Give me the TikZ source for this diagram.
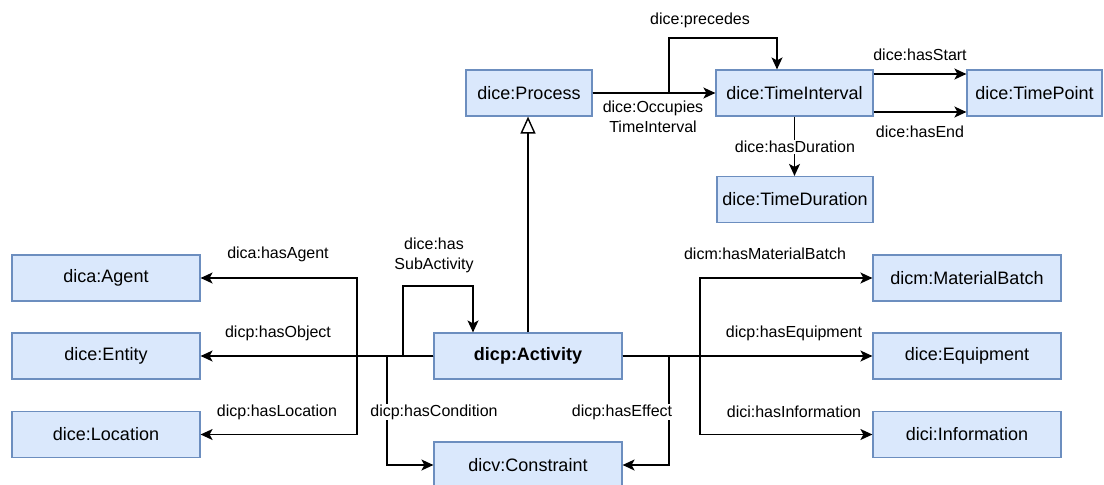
\documentclass[tikz,border=0pt]{standalone}
\usepackage{fontspec}
\setmainfont{Liberation Sans}
\usetikzlibrary{arrows.meta}

\definecolor{boxfill}{HTML}{DAE8FC}
\definecolor{boxline}{HTML}{6C8EBF}

\tikzset{
    cls/.style={draw=boxline, fill=boxfill, line width=1.2pt, minimum height=46pt, inner sep=0pt, font=\fontsize{18}{21}\selectfont},
    rel/.style={inner sep=1pt, align=center, font=\fontsize{16}{20}\selectfont},
    arr/.style={line width=1.4pt, -{Stealth[length=12pt,width=11pt,inset=3pt]}},
    gen/.style={line width=1.4pt, -{Triangle[open,length=17pt,width=15pt,fill=white]}}
}

\begin{document}
    \begin{tikzpicture}[x=1pt,y=-1pt]
        \useasboundingbox (0,0) rectangle (1104,485);

        \node[cls, minimum width=126pt] (p) at (529, 93) {dice:Process};
        \node[cls, minimum width=157pt] (ti) at (794.5, 93) {dice:TimeInterval};
        \node[cls, minimum width=135pt] (tp) at (1034.5, 93) {dice:TimePoint};
        \node[cls, minimum width=156pt] (td) at (795, 199.5) {dice:TimeDuration};

        \node[cls, minimum width=188pt] (ag) at (106, 278) {dica:Agent};
        \node[cls, minimum width=188pt] (en) at (106, 356) {dice:Entity};
        \node[cls, minimum width=188pt] (lo) at (106, 434.5) {dice:Location};

        \node[cls, minimum width=188pt, font=\fontsize{18}{21}\selectfont\bfseries] (ac) at (528, 356) {dicp:Activity};
        \node[cls, minimum width=188pt] (co) at (528, 465) {dicv:Constraint};

        \node[cls, minimum width=188pt] (mb) at (967, 278) {dicm:MaterialBatch};
        \node[cls, minimum width=188pt] (eq) at (967, 356) {dice:Equipment};
        \node[cls, minimum width=188pt] (in) at (967, 434.5) {dici:Information};

        \coordinate (pr1) at (669, 93);
        \coordinate (pr2) at (777, 38);
        \coordinate (sa1) at (403, 356);
        \coordinate (sa2) at (473, 286);
        \coordinate (ls) at (357, 356);
        \coordinate (cd) at (387, 356);
        \coordinate (ef) at (669, 356);
        \coordinate (rs) at (700, 356);

        \draw[arr] (p) -- (ti);
        \draw[arr] (p.east) -- (pr1) |- (pr2) -- (pr2 |- ti.north);
        \draw[arr] ([yshift=19pt]ti.east) -- ([yshift=19pt]tp.west);
        \draw[arr] ([yshift=-19pt]ti.east) -- ([yshift=-19pt]tp.west);
        \draw[arr] (ti.south) -- (ti.south |- td.north);
        \draw[gen] (ac.north) -- (ac.north |- p.south);

        \draw[arr] (ac.west) -- (en.east);
        \draw[arr] (ac.west) -- (ls) |- (ag.east);
        \draw[arr] (ac.west) -- (ls) |- (lo.east);
        \draw[arr] (ac.west) -- (sa1) |- (sa2) -- (sa2 |- ac.north);
        \draw[arr] (ac.west) -- (cd) |- (co.west);

        \draw[arr] (ac.east) -- (eq.west);
        \draw[arr] (ac.east) -- (rs) |- (mb.west);
        \draw[arr] (ac.east) -- (rs) |- (in.west);
        \draw[arr] (ac.east) -- (ef) |- (co.east);

        \node[rel] (l1) at (700, 20) {dice:precedes};
        \node[rel] (l2) at (653, 117) {dice:Occupies\\TimeInterval};
        \node[rel] (l3) at (920, 55) {dice:hasStart};
        \node[rel] (l4) at (920, 132) {dice:hasEnd};
        \node[rel, fill=white] (l5) at (795, 147) {dice:hasDuration};

        \node[rel] (l6) at (434, 255) {dice:has\\SubActivity};
        \node[rel] (l7) at (278, 254) {dica:hasAgent};
        \node[rel] (l8) at (278, 333) {dicp:hasObject};
        \node[rel] (l9) at (277, 412) {dicp:hasLocation};
        \node[rel, fill=white] (l10) at (434, 412) {dicp:hasCondition};
        \node[rel, fill=white] (l11) at (622, 412) {dicp:hasEffect};

        \node[rel] (l12) at (765, 254) {dicm:hasMaterialBatch};
        \node[rel] (l13) at (794, 333) {dicp:hasEquipment};
        \node[rel] (l14) at (794, 412) {dici:hasInformation};

    \end{tikzpicture}
\end{document}
